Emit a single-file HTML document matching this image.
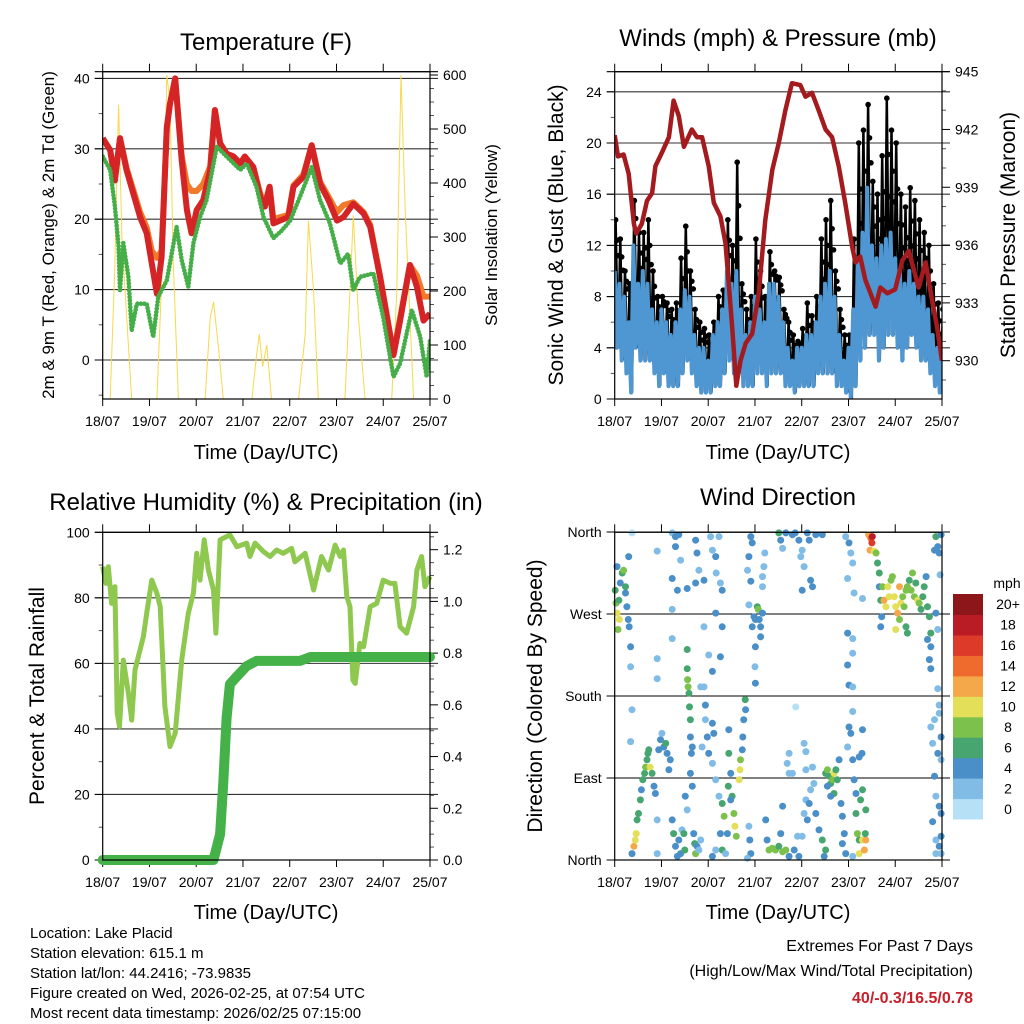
<!DOCTYPE html>
<html><head><meta charset="utf-8"><title>Lake Placid station</title>
<style>
html,body{margin:0;padding:0;background:#fff;}
svg{display:block;font-family:"Liberation Sans",sans-serif;}
</style></head>
<body>
<svg id="chart" width="1024" height="1024" viewBox="0 0 1024 1024" xmlns="http://www.w3.org/2000/svg">
<defs>
<clipPath id="clipTL"><rect x="102.7" y="71.7" width="327.3" height="327.3"/></clipPath>
<clipPath id="clipTR"><rect x="614.7" y="71.7" width="327.3" height="327.3"/></clipPath>
<clipPath id="clipBL"><rect x="96" y="532.3" width="340" height="334"/></clipPath>
<clipPath id="clipBR"><rect x="610" y="528" width="336" height="336"/></clipPath>
</defs>
<g id="root"></g>
<text x="266" y="50" font-size="24" text-anchor="middle">Temperature (F)</text>
<text x="778" y="46" font-size="24" text-anchor="middle">Winds (mph) &amp; Pressure (mb)</text>
<text x="266" y="510" font-size="24" text-anchor="middle">Relative Humidity (%) &amp; Precipitation (in)</text>
<text x="778" y="505" font-size="24" text-anchor="middle">Wind Direction</text>
<text transform="translate(54,235) rotate(-90)" font-size="17" text-anchor="middle">2m &amp; 9m T (Red, Orange) &amp; 2m Td (Green)</text>
<text transform="translate(497,235) rotate(-90)" font-size="17" text-anchor="middle">Solar Insolation (Yellow)</text>
<text transform="translate(563,235) rotate(-90)" font-size="21" text-anchor="middle">Sonic Wind &amp; Gust (Blue, Black)</text>
<text transform="translate(1015,235) rotate(-90)" font-size="21" text-anchor="middle">Station Pressure (Maroon)</text>
<text transform="translate(44,696) rotate(-90)" font-size="21" text-anchor="middle">Percent &amp; Total Rainfall</text>
<text transform="translate(542,696) rotate(-90)" font-size="21" text-anchor="middle">Direction (Colored By Speed)</text>
<text x="266" y="459" font-size="20" text-anchor="middle">Time (Day/UTC)</text>
<text x="778" y="459" font-size="20" text-anchor="middle">Time (Day/UTC)</text>
<text x="266" y="919" font-size="20" text-anchor="middle">Time (Day/UTC)</text>
<text x="778" y="919" font-size="20" text-anchor="middle">Time (Day/UTC)</text>
<g font-size="15">
<text x="30" y="938">Location: Lake Placid</text>
<text x="30" y="958">Station elevation: 615.1 m</text>
<text x="30" y="978">Station lat/lon: 44.2416; -73.9835</text>
<text x="30" y="998">Figure created on Wed, 2026-02-25, at 07:54 UTC</text>
<text x="30" y="1018">Most recent data timestamp: 2026/02/25 07:15:00</text>
</g>
<g font-size="16" text-anchor="end">
<text x="973" y="951">Extremes For Past 7 Days</text>
<text x="973" y="976">(High/Low/Max Wind/Total Precipitation)</text>
<text x="973" y="1003" fill="#c8202a" font-weight="bold">40/-0.3/16.5/0.78</text>
</g>
</svg>
<script>
// ---- Temperature data ----
const tempTimes=[0,.16,.26,.37,.51,.80,.94,1.05,1.16,1.26,1.37,1.44,1.55,1.69,1.80,1.90,2.01,2.15,2.30,2.40,2.51,2.65,2.80,2.94,3.04,3.22,3.37,3.47,3.57,3.65,3.79,3.97,4.08,4.29,4.47,4.65,4.83,5.01,5.15,5.36,5.58,5.72,5.93,6.22,6.36,6.57,6.72,6.86,7.0];
const temp2m=[31.5,29.8,25.5,31.5,27,20.3,18,13.7,9.4,14.6,33,36.4,40,28.4,21.3,18,21.3,22.7,27,35.5,30.8,29.3,28.9,27.9,28.9,27.4,23.2,21.8,24.6,19.4,19.8,20.3,24.6,26,30.5,25,22.7,19.8,20.3,22.2,20.8,18.9,11.8,0.7,5.6,13.5,10.4,5.6,6.6];
const temp9m=[31.5,29.8,25.8,31.5,27.3,21,18.8,15.5,14.5,15.5,33,36.4,40,29,25,24,24,25,27.5,35.5,30.8,29.3,28.9,27.9,28.9,27.4,23.6,22.3,24.6,20,20.3,20.6,24.8,26.3,30.5,25.3,23.2,21,22,22.4,21,19.2,12,0.9,6,13.5,12,9,9];
const dewTimes=[0,.16,.26,.34,.37,.44,.55,.62,.73,.94,1.08,1.19,1.37,1.58,1.69,1.83,1.94,2.08,2.22,2.44,2.65,2.94,3.08,3.29,3.44,3.65,3.83,4.01,4.22,4.47,4.65,4.86,5.08,5.25,5.36,5.50,5.79,6.00,6.22,6.36,6.61,6.79,6.93,7.0];
const dewPoint=[28.9,27,21.8,16.1,9.9,16.6,11.8,4.2,8,8,3.3,9,11.3,18.9,14.2,10.4,16.6,20.3,22.7,30.3,28.9,27,27.9,24.6,20.3,17.3,18.4,19.8,23.2,27.4,22.7,19.4,13.7,15.1,9.9,11.8,12.3,6.1,-2.4,-0.5,7.1,3.3,-2.4,2.8];
const solarTimes=[0,.16,.26,.34,.41,.48,.62,1.16,1.30,1.37,1.44,1.51,1.62,2.19,2.30,2.37,2.47,2.58,3.19,3.29,3.35,3.42,3.51,3.61,4.19,4.33,4.40,4.51,4.61,5.18,5.29,5.36,5.47,5.61,6.18,6.29,6.38,6.47,6.65,7];
const solarValues=[0,0,250,545,300,200,0,0,300,600,550,250,0,0,150,180,100,0,0,80,120,60,100,0,0,120,330,200,0,0,200,340,150,0,0,200,600,350,0,0];
const tempTicks=[0,10,20,30,40];
const solarTicks=[0,100,200,300,400,500,600];
const dayLabels=["18/07","19/07","20/07","21/07","22/07","23/07","24/07","25/07"];
// ---- Wind data (0.1-day bins) ----
const windHigh=[10,9,8,6,12,9,10,9,7,6,7,6,5,6,7,8.5,8,5,4,4,3,5,6,7,10,9,10,7,5,6,8,7,6,9,9,8,6,4,3,4,4,5,5,6,8,9,10,8,5,3,4,7,11,13,16.5,12,11,12,12.5,13,11,10,9,10,9,8,8,7,5,4,4];
const windLow=[4,3,2,0.5,4,3,3,3,2,1,2,1,1,1,2,3,2,1,0.5,0.5,0.5,1,1,2,3,2,2,1,1,1,2,2,1,2,2,2,1,1,0.5,1,1,1,1,2,2,2,2,1,1,0.5,0,1,3,4,5,5,3,4,5,5,4,3,4,5,4,3,3,2,1,0.5,1];
const windGust=[14,12.5,10,9,15.5,13,13,14,10,8,8,7.5,7,7.5,11,13.5,10,7,6,5.5,5,6,8,8.5,14,12,18.5,9,7,8,12.5,10,8,11.5,10,9.5,7,6,5,4.5,5.5,7.5,6.5,8,12.5,14,15.5,10,7,5,5,12.5,20,21,23,17,16,19,23.5,21,20,16,15,16.5,15.5,14,13,12,9,7.5,7];
const presTimes=[0,.07,.19,.30,.41,.46,.58,.69,.80,.87,1.01,1.16,1.26,1.37,1.48,1.65,1.76,1.87,2.01,2.12,2.26,2.37,2.51,2.60,2.69,2.80,2.94,3.08,3.22,3.37,3.51,3.65,3.79,3.97,4.08,4.22,4.36,4.51,4.65,4.79,4.93,5.08,5.15,5.25,5.36,5.47,5.58,5.68,5.83,6.00,6.15,6.29,6.40,6.50,6.65,6.79,6.89,7.0];
const presValues=[941.7,940.6,940.7,939.7,937.1,936.6,937.1,938.3,938.7,940.1,940.8,941.6,943.5,942.7,941.1,942,941.6,941.6,940.1,938.2,937.5,936.1,931.8,928.7,930,930.9,931.4,933.5,937.3,939.9,941.3,943,944.4,944.3,943.7,943.9,943,942,941.6,940.1,938.2,935.9,935.1,935.4,934.2,933.5,932.8,933.8,933.5,933.7,935.2,935.7,934.7,933.8,935.1,933.1,931.8,930];
const windTicks=[0,4,8,12,16,20,24];
const presTicks=[930,933,936,939,942,945];
// ---- Humidity / rain ----
const rhTimes=[0,.07,.12,.19,.26,.31,.36,.44,.55,.62,.69,.87,.94,1.05,1.16,1.23,1.33,1.44,1.55,1.69,1.83,1.94,2.01,2.08,2.17,2.26,2.37,2.42,2.51,2.72,2.87,3.08,3.15,3.26,3.44,3.58,3.72,3.86,4.04,4.11,4.33,4.51,4.68,4.83,4.97,5.08,5.15,5.22,5.29,5.35,5.40,5.50,5.58,5.72,5.86,6.00,6.15,6.25,6.36,6.50,6.65,6.72,6.82,6.89,7];
const rhValues=[89.5,84.4,89.5,78.3,83.4,44.8,40.7,61,50.9,42.7,58,68.2,75.3,85.4,81.4,77.3,46.8,34.6,38.7,61,75.3,81.4,93.6,85.4,97.7,88.5,82.4,69.2,97.7,99.2,95.6,96.7,92.6,96.7,94.1,92.6,94.6,93.6,95.1,91,93.6,82.4,92.6,88.5,96.1,92.6,94.6,80.4,77.3,54.9,53.9,66.1,65.1,77.3,78.3,85.4,84.4,84.4,71.2,69.2,77.3,88.5,92.6,83.4,86.5];
const rainTimes=[0,2.37,2.51,2.58,2.65,2.72,2.87,3.08,3.29,4.22,4.44,7];
const rainValues=[0,0,0.1,0.3,0.55,0.68,0.71,0.75,0.77,0.77,0.785,0.785];
const rhTicks=[0,20,40,60,80,100];
const rainTicks=["0.0","0.2","0.4","0.6","0.8","1.0","1.2"];
// ---- Wind direction ----
const dirTimes=[.01,.03,.05,.09,.10,.07,.12,.16,.19,.23,.26,.29,.30,.31,.34,.34,.05,.23,
.37,.34,.37,.41,.44,.46,.48,.51,.55,.57,.60,.64,.66,.69,.71,.73,.76,.80,.84,.87,.91,.91,.94,.98,1.01,1.05,1.09,1.12,1.16,1.19,
1.23,1.26,1.30,1.34,1.37,1.41,1.44,1.48,1.50,1.51,1.55,1.62,1.64,1.66,1.69,1.71,1.73,1.76,1.80,1.84,
1.55,1.55,1.56,1.57,1.59,1.60,1.62,1.62,1.66,
1.23,1.30,1.37,1.30,1.41,1.23,1.34,1.55,1.73,1.76,1.80,1.73,1.91,2.05,2.09,2.16,2.17,2.23,2.26,2.30,1.23,1.23,.91,.91,1.91,2.01,2.09,2.16,2.30,2.26,.91,.37,
1.84,1.91,1.94,1.94,1.98,1.87,2.01,2.09,2.12,2.09,2.16,2.23,2.30,2.34,2.41,2.26,2.30,2.37,2.16,2.09,2.44,2.44,2.48,2.43,2.51,2.55,2.57,2.60,2.66,2.68,2.69,2.73,2.76,2.79,2.80,2.74,2.48,
2.87,2.89,2.91,2.84,
2.94,2.98,3.01,3.05,3.07,3.09,3.12,3.16,3.12,3.01,3.00,3.01,3.16,3.19,3.21,2.91,2.94,2.87,2.84,2.91,3.16,2.87,
3.23,3.26,3.30,3.37,3.44,3.51,3.59,3.66,3.73,3.55,3.59,3.73,3.69,3.80,3.84,3.91,3.94,4.01,4.05,4.09,4.12,4.16,4.19,4.26,4.30,4.37,4.44,4.48,4.51,4.09,4.05,4.09,3.73,3.87,4.23,
3.51,3.55,3.59,3.66,3.80,3.86,3.94,3.98,4.01,4.05,4.12,4.16,4.19,4.23,4.01,4.30,4.44,
4.51,4.55,4.59,4.62,4.66,4.69,4.73,4.76,4.69,4.62,4.55,4.80,4.84,4.87,4.91,4.87,4.94,5.01,4.98,5.05,5.09,5.12,5.16,5.19,5.23,5.23,5.30,5.34,5.37,5.36,5.37,5.26,5.30,5.29,5.23,5.16,5.09,5.30,
4.94,5.01,5.05,5.09,4.98,5.12,5.30,4.98,5.09,5.09,4.98,5.01,5.09,5.09,
5.43,5.48,5.51,5.50,5.46,5.55,5.59,5.62,5.66,5.66,5.69,5.71,5.69,
5.73,5.76,5.80,5.84,5.87,5.91,5.94,5.98,6.01,6.05,6.09,6.12,6.16,6.19,6.23,6.26,6.30,6.34,6.37,6.41,6.44,6.48,6.51,6.55,6.59,6.62,6.66,6.69,6.73,6.01,6.09,6.23,6.26,6.76,6.69,6.76,6.73,6.76,6.87,6.91,6.91,6.87,6.91,6.94,6.84,6.98,6.96,
6.76,6.84,6.94,6.94,6.98,6.80,6.91,6.98,6.84,6.87,6.94,6.98,6.80,6.87,6.94,6.87,6.98,6.98];
const dirDegrees=[296,282,271,285,264,253,304,315,318,293,278,264,333,256,234,212,322,300,
165,130,7,15,22,29,44,51,66,77,88,95,102,110,117,121,102,95,81,73,44,7,121,132,139,124,128,117,99,110,
44,29,15,4,22,7,33,29,11,70,55,95,117,81,29,18,7,15,11,22,
231,210,198,190,183,168,154,135,124,
359,355,357,344,329,309,296,298,351,337,318,304,307,355,340,333,315,355,304,296,275,243,221,199,256,225,207,271,256,223,339,359,
190,190,170,154,135,124,117,150,139,106,88,70,62,48,29,29,11,7,11,4,143,117,95,81,70,51,37,26,88,99,110,121,154,176,165,135,66,
37,22,7,2,
256,267,264,278,275,264,256,271,245,234,212,194,300,322,337,355,348,333,318,306,311,280,
44,22,11,13,11,15,9,11,4,29,59,95,106,95,11,26,4,26,51,66,44,62,77,84,51,33,22,4,11,99,128,119,117,168,102,
359,351,342,359,357,359,351,333,340,322,359,351,307,300,296,357,357,
95,99,92,84,88,95,99,88,73,70,81,110,62,48,29,18,7,146,124,139,110,88,51,29,7,22,22,11,22,29,55,66,77,117,113,73,4,143,
355,348,337,326,309,293,287,249,243,227,214,192,190,163,
357,353,355,348,340,339,337,326,315,300,285,267,256,
300,285,278,300,289,307,311,289,278,271,300,282,289,278,296,300,307,296,315,289,304,285,282,275,289,300,311,278,267,253,264,256,249,249,242,234,220,210,271,253,188,355,344,337,340,357,313,
146,154,170,161,135,128,117,110,92,70,59,51,42,22,15,7,7,26];
const dirSpeeds=[6,8,10,6,10,8,4,6,8,4,4,4,4,4,4,2,4,6,
2,2,4,12,10,10,6,6,6,4,6,6,8,6,6,6,10,6,4,4,2,2,4,4,2,4,6,4,4,4,
4,6,4,4,4,4,2,6,6,4,2,4,4,4,4,6,8,4,2,2,
6,6,8,8,6,6,6,4,4,
2,4,4,4,2,4,4,4,4,4,2,4,4,2,2,4,2,2,2,4,2,2,2,2,2,2,4,4,4,4,2,1,
2,2,4,2,4,2,4,4,4,2,2,2,6,8,4,4,6,2,2,4,4,6,4,6,6,8,10,8,10,10,8,4,4,6,4,4,4,
2,4,4,2,
4,4,4,6,8,4,4,4,4,4,2,4,2,2,2,4,4,4,2,4,2,2,
4,4,8,8,8,6,8,8,4,4,4,2,2,2,4,2,4,2,2,2,4,4,2,2,4,4,6,4,6,2,2,2,2,1,2,
6,4,2,4,4,4,4,2,2,2,4,4,4,4,4,4,4,
6,8,6,6,8,10,6,6,6,4,4,4,4,4,4,4,4,4,2,4,4,4,6,8,10,6,10,12,12,6,6,6,6,4,4,4,2,4,
2,4,2,2,2,2,2,4,2,2,4,4,2,2,
12,14,18,16,12,10,8,6,6,4,6,4,4,
8,12,10,10,10,8,8,10,10,12,12,10,8,8,8,8,6,8,8,8,6,10,8,6,6,6,4,6,6,10,8,6,6,6,4,4,4,4,4,2,2,6,4,4,4,4,2,
2,2,2,2,4,2,4,2,4,2,4,4,4,2,4,2,2,4];
const dirTicks=["North","East","South","West","North"];
const speedBins=["0","2","4","6","8","10","12","14","16","18","20+"];
const speedColors=["#b5e0f6","#80bce6","#4a8fc7","#47a56f","#7cc14b","#e4df58","#f4a84a","#ee6a2d","#dd3a2a","#ba1c25","#8c1619"];

const NS="http://www.w3.org/2000/svg";
const root=document.getElementById('root');
function mk(tag,attrs,parent){const e=document.createElementNS(NS,tag);for(const k in attrs)e.setAttribute(k,attrs[k]);(parent||root).appendChild(e);return e;}
function xAxis(x0,x1){return t=>x0+t*(x1-x0)/7;}
const xL=xAxis(102.7,430), xR=xAxis(614.7,942);
const yT=v=>360-v*7.04, yS=v=>399-v*0.54;
const yW=v=>399-v*12.8, yP=p=>360.7-(p-930)*19.27;
const yR=v=>860-v*3.277, yRain=v=>860-v*258.6;
const yD=d=>860-d*0.9111;
function pts(ts,vs,fx,fy){return ts.map((t,i)=>fx(t).toFixed(1)+','+fy(vs[i]).toFixed(1)).join(' ');}

function frame(name,x0,y0,x1,y1){
  const g=mk('g',{});
  
  
  for(let d=0;d<=7;d++){const x=x0+d*(x1-x0)/7;
    mk('line',{x1:x,y1:y0-8,x2:x,y2:y0,stroke:'#000','stroke-width':1},g);
    mk('line',{x1:x,y1:y1,x2:x,y2:y1+7,stroke:'#000','stroke-width':1},g);
    const lab=mk('text',{x:x,y:y1+27,'font-size':14,'text-anchor':'middle'},g);
    
    
    lab.textContent=dayLabels[d];
  }
  return g;
}
function border(x0,y0,x1,y1){const r=mk('rect',{x:x0,y:y0,width:x1-x0,height:y1-y0,fill:'none',stroke:'#000','stroke-width':1.2});
  
  }
function hgrid(g,y,x0,x1,col){mk('line',{x1:x0-8,y1:y,x2:x1+8,y2:y,stroke:col||'#222','stroke-width':1.1},g);}
function ltick(g,y,x0,label,fs){mk('line',{x1:x0-8,y1:y,x2:x0,y2:y,stroke:'#000'},g);
  const t=mk('text',{x:x0-13,y:y+5,'font-size':fs||14,'text-anchor':'end'},g);
  
  
  t.textContent=label;}
function rtick(g,y,x1,label){mk('line',{x1:x1,y1:y,x2:x1+8,y2:y,stroke:'#000'},g);
  const t=mk('text',{x:x1+13,y:y+5,'font-size':14},g);
  
  
  t.textContent=label;}
function minorL(g,y,x0){mk('line',{x1:x0-4,y1:y,x2:x0,y2:y,stroke:'#555'},g);}
function minorR(g,y,x1){mk('line',{x1:x1,y1:y,x2:x1+4,y2:y,stroke:'#555'},g);}

// ===== Panel 1: Temperature =====
{const g=frame('temperature-panel',102.7,71.7,430,399);
 hgrid(g,71.7,102.7,430,'#000');
 tempTicks.forEach(v=>{hgrid(g,yT(v),102.7,430,'#333');ltick(g,yT(v),102.7,String(v));});
 for(let v=-5;v<=40;v+=5){if(v%10)minorL(g,yT(v),102.7);}
 solarTicks.forEach(v=>rtick(g,yS(v),430,String(v)));
 for(let v=25;v<=600;v+=25){if(v%100)minorR(g,yS(v),430);}
 const c=mk('g',{'clip-path':'url(#clipTL)'},g);
 let e=mk('polyline',{points:pts(solarTimes,solarValues,xL,yS),fill:'none',stroke:'#f7d94a','stroke-width':1},c);
 
 
 e=mk('polyline',{points:pts(tempTimes,temp9m,xL,yT),fill:'none',stroke:'#f07a2a','stroke-width':6,'stroke-linejoin':'round'},c);
 
 
 e=mk('polyline',{points:pts(tempTimes,temp2m,xL,yT),fill:'none',stroke:'#d42426','stroke-width':6,'stroke-linejoin':'round'},c);
 
 
 e=mk('polyline',{points:pts(dewTimes,dewPoint,xL,yT),fill:'none',stroke:'#45ae48','stroke-width':4.6,'stroke-linecap':'round','stroke-dasharray':'0 3.4','stroke-linejoin':'round'},c);
 
 
 border(102.7,71.7,430,399);}

// ===== Panel 2: Winds =====
{const g=frame('winds-panel',614.7,71.7,942,399);
 hgrid(g,71.7,614.7,942,'#000');
 windTicks.forEach(v=>{if(v>0)hgrid(g,yW(v),614.7,942,'#333');ltick(g,yW(v),614.7,String(v));});
 for(let v=2;v<=24;v+=4)minorL(g,yW(v),614.7);
 presTicks.forEach(v=>rtick(g,yP(v),942,String(v)));
 for(let v=929;v<=945;v++){if((v-930)%3)minorR(g,yP(v),942);}
 const c=mk('g',{'clip-path':'url(#clipTR)'},g);
 let gz=[],bz=[];
 windGust.forEach((v,i)=>{const t=i*0.1;gz.push([t+0.02,v],[t+0.07,windLow[i]]);});
 windHigh.forEach((v,i)=>{const t=i*0.1;bz.push([t,v],[t+0.05,windLow[i]]);});
 let e=mk('polyline',{points:gz.map(p=>xR(p[0]).toFixed(1)+','+yW(p[1]).toFixed(1)).join(' '),fill:'none',stroke:'#000','stroke-width':2.5},c);
 
 
 windGust.forEach((v,i)=>{
   [[0.02,1],[0.05,0.6],[0.08,0.3]].forEach(f=>{
     const d=mk('circle',{cx:xR(i*0.1+f[0]),cy:yW(windHigh[i]+(v-windHigh[i])*f[1]),r:2.8,fill:'#000'},c);
     
     
   });
 });
 e=mk('polyline',{points:bz.map(p=>xR(p[0]).toFixed(1)+','+yW(p[1]).toFixed(1)).join(' '),fill:'none',stroke:'#4f97d2','stroke-width':4,'stroke-linejoin':'round'},c);
 
 
 e=mk('polyline',{points:pts(presTimes,presValues,xR,yP),fill:'none',stroke:'#a31b1e','stroke-width':4.5,'stroke-linejoin':'round'},c);
 
 
 border(614.7,71.7,942,399);}

// ===== Panel 3: Humidity =====
{const g=frame('humidity-panel',102.7,532.3,430,860);
 rhTicks.forEach(v=>{hgrid(g,yR(v),102.7,430,v===100?'#000':'#333');ltick(g,yR(v),102.7,String(v));});
 for(let v=10;v<100;v+=20)minorL(g,yR(v),102.7);
 rainTicks.forEach(s=>rtick(g,yRain(parseFloat(s)),430,s));
 for(let v=0.05;v<1.27;v+=0.05){if(Math.round(v*100)%20)minorR(g,yRain(v),430);}
 const c=mk('g',{'clip-path':'url(#clipBL)'},g);
 let e=mk('polyline',{points:pts(rhTimes,rhValues,xL,yR),fill:'none',stroke:'#8ec84f','stroke-width':5,'stroke-linejoin':'round'},c);
 
 
 e=mk('polyline',{points:pts(rainTimes,rainValues,xL,yRain),fill:'none',stroke:'#45b249','stroke-width':10,'stroke-linejoin':'round','stroke-linecap':'round'},c);
 
 
 border(102.7,532.3,430,860);}

// ===== Panel 4: Wind direction =====
{const g=frame('direction-panel',614.7,532.3,942,860);
 dirTicks.forEach((s,i)=>{const y=yD(i*90);hgrid(g,y,614.7,942,'#000');ltick(g,y,614.7,s,14);});
 const c=mk('g',{'clip-path':'url(#clipBR)'},g);
 dirTimes.forEach((t,i)=>{
   const b=Math.min(10,Math.floor(dirSpeeds[i]/2));
   const d=mk('circle',{cx:xR(t).toFixed(1),cy:yD(dirDegrees[i]).toFixed(1),r:3.5,fill:speedColors[b]},c);
   
   
 });
 border(614.7,532.3,942,860);
 const cb=mk('g',{});
 
 
 const mph=mk('text',{x:1007,y:588,'font-size':14,'text-anchor':'middle'},cb);
 
 
 mph.textContent='mph';
 const h=225/11;
 speedBins.forEach((s,i)=>{const k=10-i;const y=594+k*h;
   const r=mk('rect',{x:953,y:y.toFixed(1),width:30,height:(h+0.5).toFixed(1),fill:speedColors[i]},cb);
   
   
   const t=mk('text',{x:1008,y:(y+h/2+5).toFixed(1),'font-size':14,'text-anchor':'middle'},cb);
   
   
   t.textContent=s;});
}
</script>
</body></html>
